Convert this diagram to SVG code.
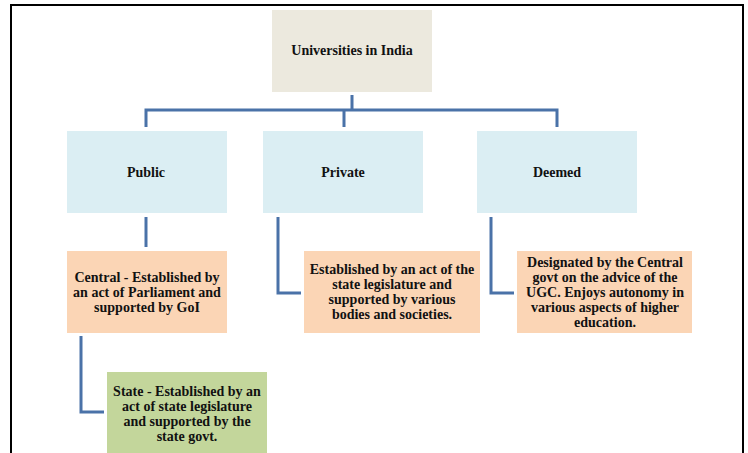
<svg xmlns="http://www.w3.org/2000/svg" width="748" height="453" viewBox="0 0 748 453">
<style>
text{font-family:"Liberation Serif","DejaVu Serif",serif;font-weight:bold;font-size:14px;fill:#111;text-anchor:middle}
.c{fill:none;stroke:#4a72a8;stroke-width:3}
.top{fill:#ece9de}.blue{fill:#dbeef3}.peach{fill:#fbd5b5}.green{fill:#c3d69b}
</style>
<rect x="0" y="0" width="748" height="453" fill="#fff"/>
<path d="M11 453V5H743V453" fill="none" stroke="#000" stroke-width="2"/>
<g id="connectors">
<path class="c" d="M352 95V110M146 127V110H557V127M344 110V127"/>
<path class="c" d="M146 217V247"/>
<path class="c" d="M278 217V293H301"/>
<path class="c" d="M491 217V293H514"/>
<path class="c" d="M81 336V412H104"/>
</g>
<g id="root"><rect class="top" x="272" y="10" width="160" height="82"/><text x="352" y="55">Universities in India</text></g>
<g id="public"><rect class="blue" x="67" y="131" width="160" height="82"/><text x="146" y="177">Public</text></g>
<g id="private"><rect class="blue" x="263" y="131" width="160" height="82"/><text x="343" y="177">Private</text></g>
<g id="deemed"><rect class="blue" x="477" y="131" width="160" height="82"/><text x="557" y="177">Deemed</text></g>
<g id="central"><rect class="peach" x="67" y="251" width="160" height="82"/>
<text x="147" y="282">Central - Established by</text><text x="147" y="297">an act of Parliament and</text><text x="147" y="312">supported by GoI</text></g>
<g id="private-desc"><rect class="peach" x="304" y="251" width="176" height="82"/>
<text x="392" y="274">Established by an act of the</text><text x="392" y="289">state legislature and</text><text x="392" y="304">supported by various</text><text x="392" y="319">bodies and societies.</text></g>
<g id="deemed-desc"><rect class="peach" x="517" y="251" width="175" height="82"/>
<text x="605" y="267">Designated by the Central</text><text x="605" y="282">govt on the advice of the</text><text x="605" y="297">UGC. Enjoys autonomy in</text><text x="605" y="312">various aspects of higher</text><text x="605" y="327">education.</text></g>
<g id="state"><rect class="green" x="107" y="372" width="160" height="85"/>
<text x="187" y="396">State - Established by an</text><text x="187" y="411">act of state legislature</text><text x="187" y="426">and supported by the</text><text x="187" y="441">state govt.</text></g>
</svg>
